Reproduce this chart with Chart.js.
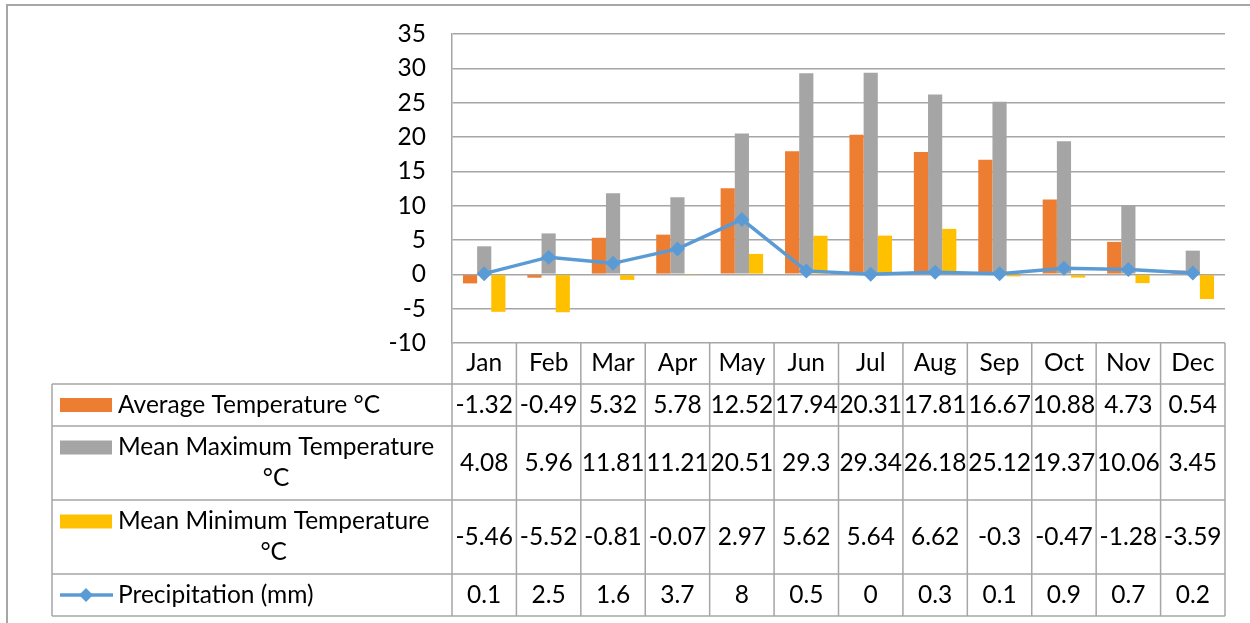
<!DOCTYPE html>
<html>
<head>
<meta charset="utf-8">
<script src="https://cdn.jsdelivr.net/npm/chart.js@4/dist/chart.umd.min.js"></script>
<style>
  html, body { margin: 0; padding: 0; background: #ffffff; }
  #wrap { width: 1250px; height: 623px; position: relative; }
</style>
</head>
<body>
<div id="wrap"><canvas id="c" width="1250" height="623"></canvas></div>
<script>
// Monthly climate figures
const months = ['Jan', 'Feb', 'Mar', 'Apr', 'May', 'Jun', 'Jul', 'Aug', 'Sep', 'Oct', 'Nov', 'Dec'];
const avgTemp = [-1.32, -0.49, 5.32, 5.78, 12.52, 17.94, 20.31, 17.81, 16.67, 10.88, 4.73, 0.54];
const maxTemp = [4.08, 5.96, 11.81, 11.21, 20.51, 29.3, 29.34, 26.18, 25.12, 19.37, 10.06, 3.45];
const minTemp = [-5.46, -5.52, -0.81, -0.07, 2.97, 5.62, 5.64, 6.62, -0.3, -0.47, -1.28, -3.59];
const precip = [0.1, 2.5, 1.6, 3.7, 8, 0.5, 0, 0.3, 0.1, 0.9, 0.7, 0.2];
const seriesNames = ['Average Temperature °C', 'Mean Maximum Temperature °C', 'Mean Minimum Temperature °C', 'Precipitation (mm)'];
const yMin = -10, yMax = 35, yStep = 5;

const FONT_SIZE = 24.5;
const FONT = FONT_SIZE + 'px Lato';
const LINE = '#a6a6a6';
const colors = { avg: '#ED7D31', max: '#A5A5A5', min: '#FFC000', pre: '#5B9BD5' };

// Data table drawn under the plot, aligned to the category scale
const tablePlugin = {
  id: 'dataTable',
  beforeDraw(chart) {
    const ctx = chart.ctx;
    ctx.save();
    ctx.strokeStyle = LINE;
    ctx.lineWidth = 2;
    ctx.beginPath();
    ctx.moveTo(7, 623); ctx.lineTo(7, 5); ctx.lineTo(1250, 5);
    ctx.stroke();
    ctx.restore();
  },
  afterDraw(chart) {
    const ctx = chart.ctx;
    const area = chart.chartArea;
    const xs = chart.scales.x;
    const tableLeft = 52;
    const rowEdges = [area.bottom, 384, 426, 500, 574, 616];
    const n = months.length;
    const centers = months.map((m, i) => xs.getPixelForValue(i));
    const bounds = [area.left];
    for (let i = 1; i < n; i++) bounds.push((centers[i - 1] + centers[i]) / 2);
    bounds.push(area.right);

    ctx.save();
    ctx.strokeStyle = LINE;
    ctx.lineWidth = 1.5;
    ctx.beginPath();
    // verticals between category columns
    bounds.forEach(x => { ctx.moveTo(x, rowEdges[0]); ctx.lineTo(x, rowEdges[5]); });
    // legend column left edge
    ctx.moveTo(tableLeft, rowEdges[1]); ctx.lineTo(tableLeft, rowEdges[5]);
    // horizontal row rules
    for (let r = 1; r < rowEdges.length; r++) {
      ctx.moveTo(tableLeft, rowEdges[r]); ctx.lineTo(area.right, rowEdges[r]);
    }
    ctx.stroke();

    ctx.fillStyle = '#000';
    ctx.font = FONT;
    ctx.textBaseline = 'middle';
    ctx.textAlign = 'center';
    // header row: month names
    const hy = (rowEdges[0] + rowEdges[1]) / 2;
    months.forEach((m, i) => ctx.fillText(m, centers[i], hy));

    const rows = [avgTemp, maxTemp, minTemp, precip];
    const keyColors = [colors.avg, colors.max, colors.min, colors.pre];
    const textLeft = 118, textMax = 330, lineGap = 31;
    rows.forEach((vals, r) => {
      const top = rowEdges[r + 1], bot = rowEdges[r + 2];
      const cy = (top + bot) / 2;
      vals.forEach((v, i) => {
        ctx.textAlign = 'center';
        ctx.fillText(String(v), centers[i], cy);
      });
      // word-wrap the series name
      const words = seriesNames[r].split(' ');
      const lines = [];
      let cur = '';
      words.forEach(w => {
        const t = cur ? cur + ' ' + w : w;
        if (ctx.measureText(t).width > textMax && cur) { lines.push(cur); cur = w; }
        else cur = t;
      });
      lines.push(cur);
      const firstY = cy - (lines.length - 1) * lineGap / 2;
      if (lines.length === 1) {
        ctx.textAlign = 'left';
        ctx.fillText(lines[0], textLeft, cy);
      } else {
        const blockW = Math.max(...lines.map(l => ctx.measureText(l).width));
        ctx.textAlign = 'center';
        lines.forEach((l, k) => ctx.fillText(l, textLeft + blockW / 2, firstY + k * lineGap));
      }
      // legend key
      const ky = firstY;
      if (r < 3) {
        ctx.fillStyle = keyColors[r];
        ctx.fillRect(60, ky - 7, 52, 14);
      } else {
        ctx.strokeStyle = keyColors[r];
        ctx.lineWidth = 3.5;
        ctx.beginPath(); ctx.moveTo(60, ky); ctx.lineTo(113, ky); ctx.stroke();
        ctx.fillStyle = keyColors[r];
        ctx.beginPath();
        ctx.moveTo(86, ky - 7); ctx.lineTo(93, ky); ctx.lineTo(86, ky + 7); ctx.lineTo(79, ky);
        ctx.closePath(); ctx.fill();
      }
      ctx.fillStyle = '#000';
    });
    ctx.restore();
  }
};

const barCommon = { categoryPercentage: 0.66, barPercentage: 1.0, order: 1, borderWidth: 0 };

new Chart(document.getElementById('c'), {
  type: 'bar',
  data: {
    labels: months,
    datasets: [
      Object.assign({ label: seriesNames[0], data: avgTemp, backgroundColor: colors.avg }, barCommon),
      Object.assign({ label: seriesNames[1], data: maxTemp, backgroundColor: colors.max }, barCommon),
      Object.assign({ label: seriesNames[2], data: minTemp, backgroundColor: colors.min }, barCommon),
      {
        type: 'line', label: seriesNames[3], data: precip, order: 0,
        borderColor: colors.pre, backgroundColor: colors.pre, borderWidth: 3.5,
        pointStyle: 'rectRot', pointRadius: 7.5, pointBorderWidth: 0,
        pointBackgroundColor: colors.pre, tension: 0
      }
    ]
  },
  options: {
    responsive: false,
    devicePixelRatio: 1,
    animation: false,
    layout: { padding: { left: 0, right: 25, top: 34, bottom: 0 } },
    plugins: { legend: { display: false }, tooltip: { enabled: false } },
    scales: {
      x: {
        grid: { display: false },
        border: { display: false },
        ticks: { display: false },
        afterFit(s) { s.height = 280; s.paddingLeft = 0; s.paddingRight = 0; }
      },
      y: {
        min: yMin, max: yMax,
        ticks: { stepSize: yStep, color: '#000', font: { family: 'Lato', size: FONT_SIZE }, padding: 26 },
        grid: { color: LINE, lineWidth: 1.5, drawTicks: false },
        border: { display: true, color: LINE, width: 1.5 },
        afterFit(s) { s.width = 452; s.paddingTop = 0; s.paddingBottom = 0; }
      }
    }
  },
  plugins: [tablePlugin]
});
</script>
</body>
</html>
